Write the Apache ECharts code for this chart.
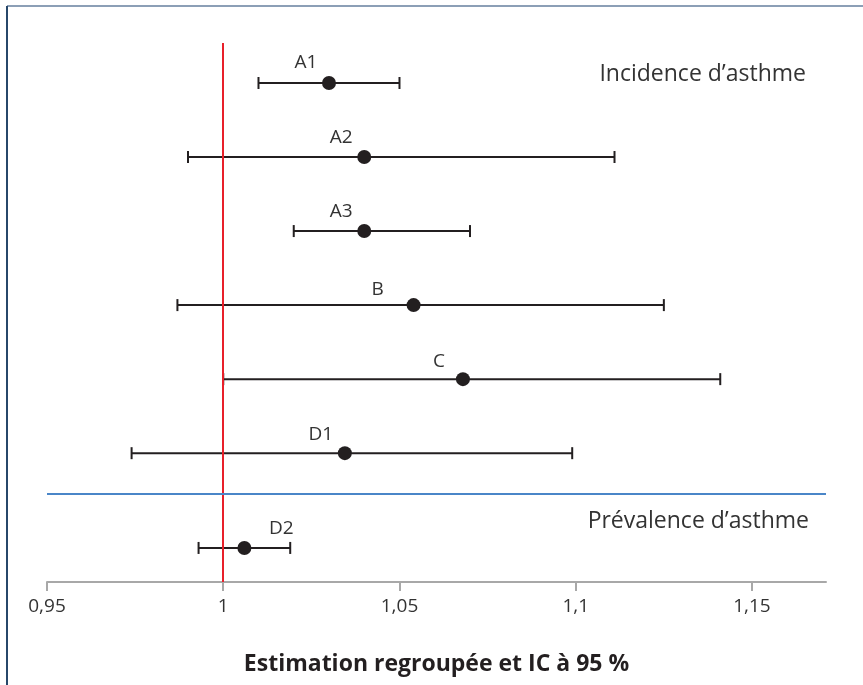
<!DOCTYPE html>
<html><head><meta charset="utf-8">
<script src="https://cdn.jsdelivr.net/npm/echarts@6/dist/echarts.min.js"></script>
<style>html,body{margin:0;padding:0;background:#fff}#c{width:863px;height:685px}</style>
</head><body><div id="c"></div>
<script>
// Data
const studies = ['A1','A2','A3','B','C','D1','D2'];
const estimate = [1.030, 1.040, 1.040, 1.054, 1.068, 1.0345, 1.006];
const ciLow    = [1.010, 0.990, 1.020, 0.987, 1.000, 0.974, 0.993];
const ciHigh   = [1.050, 1.111, 1.070, 1.125, 1.141, 1.099, 1.019];
const rowPos   = [0, 1, 2, 3, 4, 5, 6.28];
const separatorPos = 5.55;
const refValue = 1;
const xTicks = [0.95, 1, 1.05, 1.1, 1.15];
const sectionLabels = ['Incidence d\u2019asthme', 'Pr\u00e9valence d\u2019asthme'];
const axisTitle = 'Estimation regroup\u00e9e et IC \u00e0 95 %';
// label style offsets (px)
const labelOffsets = [[-23,-20],[-23,-19],[-23,-19],[-36,-16],[-24,-18],[-24,-19],[37,-19]];

const FONT = '"Open Sans", Lato, sans-serif';
const ink = '#231f20';

const chart = echarts.init(document.getElementById('c'), null, {renderer:'canvas'});
const barData = studies.map((s,i)=>[ciLow[i], ciHigh[i], rowPos[i]]);
const pointData = studies.map((s,i)=>({
  value:[estimate[i], rowPos[i]],
  label:{show:true, formatter:s, position:'inside', offset:labelOffsets[i],
         color:'#333', fontSize:19, fontWeight:'normal', fontFamily:FONT}
}));

chart.setOption({
  animation:false,
  grid:{left:47, right:37, top:43, bottom:103, containLabel:false},
  xAxis:{type:'value', min:0.95, max:1.171, interval:0.05,
    axisLine:{show:true, onZero:false, lineStyle:{color:'#a8a8a8', width:2}},
    axisTick:{show:true, inside:false, length:9, lineStyle:{color:'#a8a8a8', width:2}},
    splitLine:{show:false},
    axisLabel:{showMaxLabel:false, margin:15, color:'#333', fontSize:19, fontWeight:'normal', fontFamily:FONT,
      formatter:v=>String(Number(v.toFixed(2))).replace('.',',')},
    name:axisTitle, nameLocation:'middle', nameGap:71,
    nameTextStyle:{color:'#231f20', fontSize:23, fontWeight:'bold', fontFamily:FONT}
  },
  yAxis:{type:'value', inverse:true, min:-0.54, max:6.74, show:false},
  series:[
    {type:'custom', data:barData, encode:{x:[0,1], y:2}, z:3,
     renderItem:(params, api)=>{
       const p1 = api.coord([api.value(0), api.value(2)]);
       const p2 = api.coord([api.value(1), api.value(2)]);
       const st = {stroke:ink, lineWidth:2};
       const h = 6;
       return {type:'group', children:[
         {type:'line', shape:{x1:p1[0], y1:p1[1], x2:p2[0], y2:p2[1]}, style:st},
         {type:'line', shape:{x1:p1[0], y1:p1[1]-h, x2:p1[0], y2:p1[1]+h}, style:st},
         {type:'line', shape:{x1:p2[0], y1:p2[1]-h, x2:p2[0], y2:p2[1]+h}, style:st}
       ]};
     },
     markLine:{silent:true, symbol:'none', label:{show:false}, animation:false,
       data:[
         {xAxis:refValue, lineStyle:{color:'#e8202a', width:2, type:'solid'}},
         {yAxis:separatorPos, lineStyle:{color:'#4a86c8', width:2, type:'solid'}}
       ]}
    },
    {type:'scatter', data:pointData, symbol:'circle', symbolSize:14, z:5,
     itemStyle:{color:ink, opacity:1}}
  ],
  graphic:[
    {type:'line', shape:{x1:7, y1:6, x2:863, y2:6}, style:{stroke:'#8c9fb6', lineWidth:2}},
    {type:'line', shape:{x1:7, y1:6, x2:7, y2:685}, style:{stroke:'#27476a', lineWidth:2}},
    {type:'text', right:57, top:63, style:{text:sectionLabels[0], fill:'#333', fontSize:23, fontFamily:FONT}},
    {type:'text', right:54, top:510, style:{text:sectionLabels[1], fill:'#333', fontSize:23, fontFamily:FONT}}
  ]
});
</script></body></html>
